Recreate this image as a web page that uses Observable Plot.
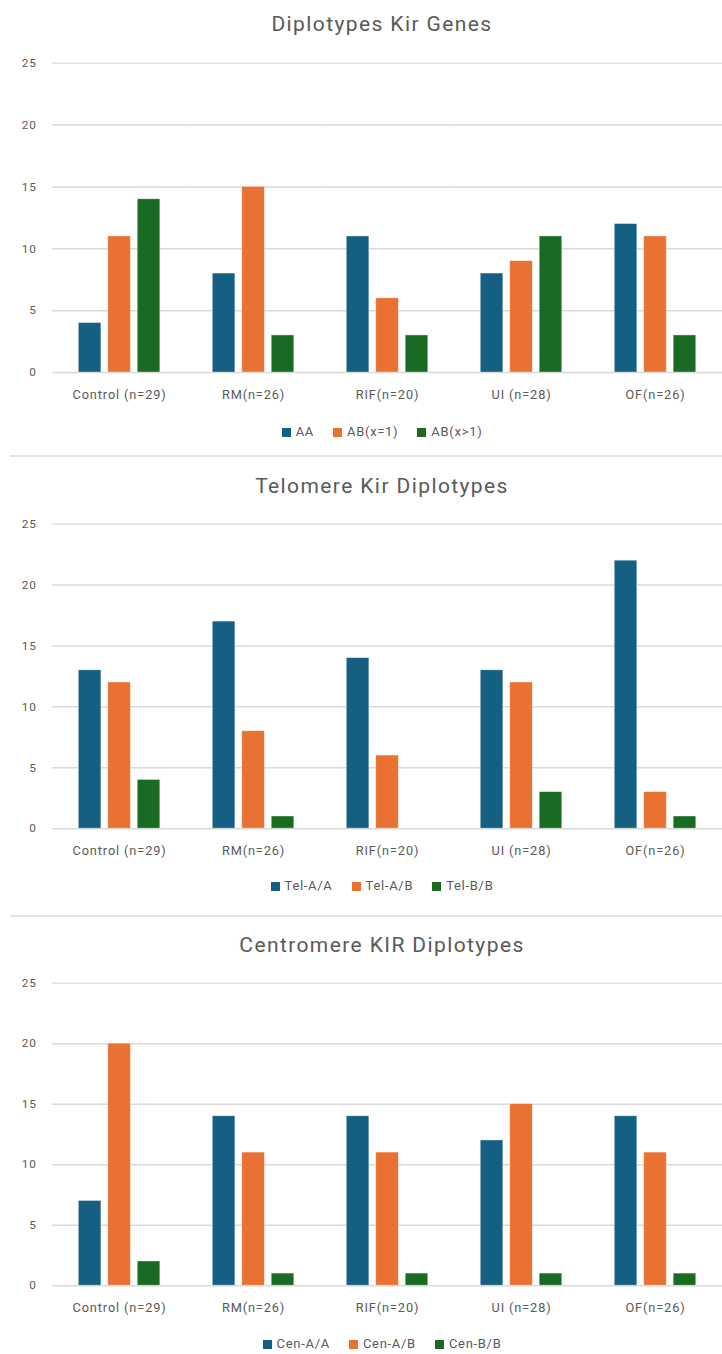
<!DOCTYPE html>
<html>
<head>
<meta charset="utf-8">
<script src="https://cdn.jsdelivr.net/npm/d3@7"></script>
<script src="https://cdn.jsdelivr.net/npm/@observablehq/plot@0.6"></script>
<style>
  html, body { margin: 0; padding: 0; background: #fff; }
  body { width: 722px; height: 1354px; overflow: hidden; position: relative; font-family: Roboto, "Open Sans", sans-serif; color: #595959; }
  .abs { position: absolute; }
  .title { left: 0; width: 764px; text-align: center; font-size: 21px; line-height: 24px; letter-spacing: 1.4px; color: #595959; }
  .legend { left: 0; width: 764px; display: flex; justify-content: center; gap: 19px; font-size: 13px; line-height: 14px; letter-spacing: 0.7px; }
  .legend span.item { display: inline-flex; align-items: center; gap: 5px; }
  .legend i { display: inline-block; width: 9px; height: 9px; }
  .sep { left: 10px; width: 712px; height: 0; border-top: 2px solid #e3e3e3; }
  svg text { letter-spacing: 0.9px; }
</style>
</head>
<body>
<script>
// ---- data ----
const categories = ["Control (n=29)", "RM(n=26)", "RIF(n=20)", "UI (n=28)", "OF(n=26)"];
const yTicks = [0, 5, 10, 15, 20, 25];
const seriesColors = ["#156082", "#E97132", "#196B24"];

const titleKir = "Diplotypes Kir Genes";
const seriesKir = ["AA", "AB(x=1)", "AB(x>1)"];
const kirAA = [4, 8, 11, 8, 12];
const kirAB1 = [11, 15, 6, 9, 11];
const kirAB2 = [14, 3, 3, 11, 3];

const titleTel = "Telomere Kir Diplotypes";
const seriesTel = ["Tel-A/A", "Tel-A/B", "Tel-B/B"];
const telAA = [13, 17, 14, 13, 22];
const telAB = [12, 8, 6, 12, 3];
const telBB = [4, 1, 0, 3, 1];

const titleCen = "Centromere KIR Diplotypes";
const seriesCen = ["Cen-A/A", "Cen-A/B", "Cen-B/B"];
const cenAA = [7, 14, 14, 12, 14];
const cenAB = [20, 11, 11, 15, 11];
const cenBB = [2, 1, 1, 1, 1];

// ---- layout (page pixel positions) ----
const layouts = [
  {titleY: 24, gridTop: 63, zero: 372, legendY: 432, sepY: 456},
  {titleY: 486, gridTop: 524, zero: 828, legendY: 886, sepY: 916},
  {titleY: 945, gridTop: 983, zero: 1285, legendY: 1344, sepY: null}
];

const charts = [
  {title: titleKir, series: seriesKir, values: [kirAA, kirAB1, kirAB2]},
  {title: titleTel, series: seriesTel, values: [telAA, telAB, telBB]},
  {title: titleCen, series: seriesCen, values: [cenAA, cenAB, cenBB]}
];

function el(tag, cls, styles) {
  const e = document.createElement(tag);
  if (cls) e.className = cls;
  Object.assign(e.style, styles || {});
  document.body.appendChild(e);
  return e;
}

charts.forEach((c, k) => {
  const L = layouts[k];
  const t = el("div", "abs title", {top: (L.titleY - 12) + "px"});
  t.textContent = c.title;

  const data = [];
  c.series.forEach((s, i) => {
    categories.forEach((cat, j) => data.push({cat, series: s, value: c.values[i][j]}));
  });

  const mt = 20, mb = 40;
  const height = (L.zero - L.gridTop) + mt + mb + 6;
  const plot = Plot.plot({
    width: 735,
    height,
    marginTop: mt,
    marginBottom: mb,
    marginLeft: 53,
    marginRight: 0,
    style: {fontFamily: "Roboto, 'Open Sans', sans-serif", fontSize: "12px", color: "#595959", background: "transparent", overflow: "visible"},
    fx: {domain: categories, padding: 0, axis: null, round: false},
    x: {domain: c.series, paddingInner: 0.233, paddingOuter: 0.89, axis: null, round: false},
    y: {domain: [0, 25], axis: null},
    color: {domain: c.series, range: seriesColors},
    marks: [
      Plot.gridY(yTicks, {stroke: "#d9d9d9", strokeOpacity: 1, strokeWidth: 1.5}),
      Plot.barY(data, {fx: "cat", x: "series", y: "value", fill: "series", filter: d => d.value > 0, stroke: "#ffffff", strokeOpacity: 0.5, strokeWidth: 0.8}),
      Plot.axisY(yTicks, {tickSize: 0, tickPadding: 16, label: null, fontSize: 12}),
      Plot.axisFx({anchor: "bottom", tickSize: 0, tickPadding: 18, label: null, fontSize: 13})
    ]
  });
  plot.style.position = "absolute";
  plot.style.left = "0px";
  plot.style.top = (L.gridTop - mt) + "px";
  document.body.appendChild(plot);

  const lg = el("div", "abs legend", {top: (L.legendY - 7) + "px"});
  c.series.forEach((s, i) => {
    const item = document.createElement("span");
    item.className = "item";
    const sw = document.createElement("i");
    sw.style.background = seriesColors[i];
    item.appendChild(sw);
    item.appendChild(document.createTextNode(s));
    lg.appendChild(item);
  });

  if (L.sepY != null) el("div", "abs sep", {top: (L.sepY - 1) + "px"});
});
</script>
</body>
</html>
